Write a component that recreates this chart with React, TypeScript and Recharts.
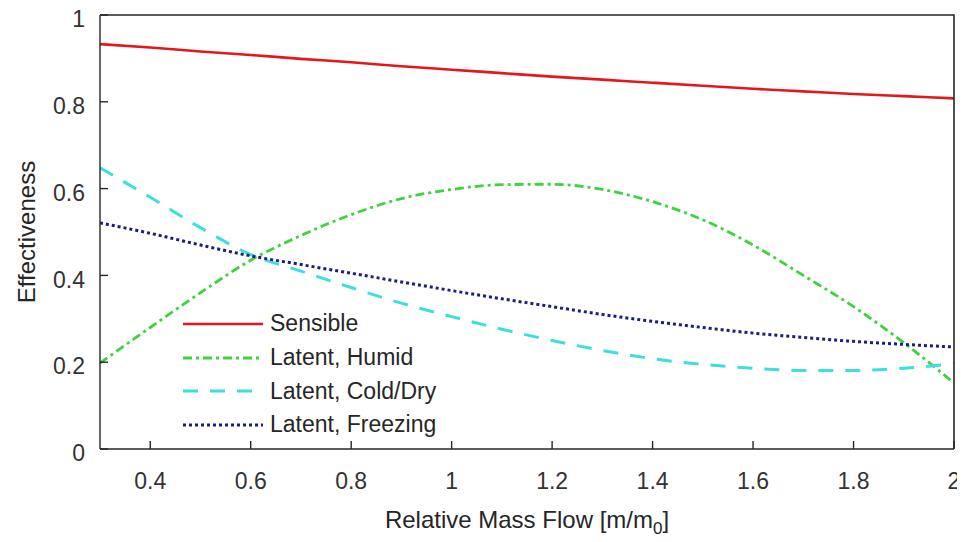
import { LineChart, Line, XAxis, YAxis, Legend } from 'recharts';

const font = '"Liberation Sans", Arial, sans-serif';

// relative mass flow m/m0
const massFlow = [0.3, 0.4, 0.5, 0.6, 0.7, 0.8, 0.9, 1.0, 1.1, 1.2, 1.3, 1.4, 1.5, 1.6, 1.7, 1.8, 1.9, 2.0];
const sensible = [0.933, 0.925, 0.916, 0.908, 0.899, 0.891, 0.882, 0.874, 0.866, 0.858, 0.851, 0.844, 0.837, 0.83, 0.824, 0.818, 0.813, 0.808];
const humid = [0.198, 0.28, 0.36, 0.435, 0.492, 0.54, 0.577, 0.598, 0.609, 0.61, 0.598, 0.57, 0.528, 0.47, 0.4, 0.328, 0.245, 0.152];
const coldDry = [0.648, 0.58, 0.51, 0.448, 0.41, 0.372, 0.336, 0.305, 0.276, 0.25, 0.227, 0.208, 0.195, 0.186, 0.181, 0.181, 0.186, 0.197];
const freezing = [0.521, 0.497, 0.47, 0.445, 0.425, 0.405, 0.385, 0.365, 0.346, 0.328, 0.31, 0.294, 0.28, 0.267, 0.257, 0.248, 0.241, 0.235];

const xTicks = [0.4, 0.6, 0.8, 1, 1.2, 1.4, 1.6, 1.8, 2];
const yTicks = [0, 0.2, 0.4, 0.6, 0.8, 1];

const series = [
    { key: 'sensible', name: 'Sensible', color: '#e3171c', dash: undefined, width: 2.6 },
    { key: 'humid', name: 'Latent, Humid', color: '#3fd23f', dash: '9 4 3 4', width: 2.8 },
    { key: 'coldDry', name: 'Latent, Cold/Dry', color: '#3ddede', dash: '15 12', width: 3 },
    { key: 'freezing', name: 'Latent, Freezing', color: '#1c1c86', dash: '3 3', width: 3 },
];

const data = massFlow.map((m, i) => ({
    m,
    sensible: sensible[i],
    humid: humid[i],
    coldDry: coldDry[i],
    freezing: freezing[i],
}));

const W = 965;
const H = 542;
const margin = { top: 15, right: 11, left: 0, bottom: 0 };
const yAxisWidth = 100;
const xAxisHeight = 93;

const axisColor = '#262626';
const tickStyle = { fill: '#333333', fontSize: 23, fontFamily: font };

const XLabel = ({ viewBox }: any) => {
    const { x, y, width } = viewBox;
    return (
        <text x={x + width / 2} y={y + 79} textAnchor="middle" fontSize={24} fill={axisColor} fontFamily={font}>
            Relative Mass Flow [m/m
            <tspan dy={6} fontSize={17}>0</tspan>
            <tspan dy={-6}>]</tspan>
        </text>
    );
};

const YLabel = ({ viewBox }: any) => {
    const { x, y, height } = viewBox;
    const cx = x + 26;
    const cy = y + height / 2;
    return (
        <text
            x={cx}
            y={cy}
            transform={`rotate(-90, ${cx}, ${cy})`}
            textAnchor="middle"
            dominantBaseline="central"
            fontSize={24}
            fill={axisColor}
            fontFamily={font}
        >
            Effectiveness
        </text>
    );
};

const renderLegend = () => (
    <div style={{ fontFamily: font, fontSize: 23, color: axisColor, whiteSpace: 'nowrap', width: 300 }}>
        {series.map((s) => (
            <div key={s.key} style={{ display: 'flex', alignItems: 'center', height: 33.7 }}>
                <svg width={82} height={10} style={{ flexShrink: 0 }}>
                    <line x1={0} y1={5} x2={80} y2={5} stroke={s.color} strokeWidth={s.width} strokeDasharray={s.dash} />
                </svg>
                <span style={{ marginLeft: 5 }}>{s.name}</span>
            </div>
        ))}
    </div>
);

export default function App() {
    const plotW = W - margin.left - margin.right - yAxisWidth;
    const plotH = H - margin.top - margin.bottom - xAxisHeight;
    return (
        <div style={{ position: 'relative', marginLeft: -8, marginTop: -8, width: W, height: H, background: '#fff' }}>
            <LineChart width={W} height={H} data={data} margin={margin}>
                <XAxis
                    dataKey="m"
                    type="number"
                    domain={[0.3, 2]}
                    ticks={xTicks}
                    allowDataOverflow
                    height={xAxisHeight}
                    tickSize={-8}
                    tickMargin={32}
                    stroke={axisColor}
                    strokeWidth={1.4}
                    tick={tickStyle}
                    label={<XLabel />}
                />
                <YAxis
                    type="number"
                    domain={[0, 1]}
                    ticks={yTicks}
                    width={yAxisWidth}
                    tickSize={-8}
                    tickMargin={23}
                    stroke={axisColor}
                    strokeWidth={1.4}
                    tick={{ ...tickStyle, dy: 4 }}
                    label={<YLabel />}
                />
                <Legend
                    layout="vertical"
                    verticalAlign="bottom"
                    align="left"
                    content={renderLegend}
                    wrapperStyle={{ left: 183, top: 307, width: 0, height: 0, overflow: 'visible' }}
                />
                {series.map((s) => (
                    <Line
                        key={s.key}
                        type="monotone"
                        dataKey={s.key}
                        name={s.name}
                        stroke={s.color}
                        strokeWidth={s.width}
                        strokeDasharray={s.dash}
                        dot={false}
                        activeDot={false}
                        isAnimationActive={false}
                    />
                ))}
            </LineChart>
            {/* top and right edges of the plot box */}
            <svg
                width={W}
                height={H}
                style={{ position: 'absolute', left: 0, top: 0, pointerEvents: 'none' }}
            >
                <polyline
                    points={`${margin.left + yAxisWidth},${margin.top} ${margin.left + yAxisWidth + plotW},${margin.top} ${margin.left + yAxisWidth + plotW},${margin.top + plotH}`}
                    fill="none"
                    stroke={axisColor}
                    strokeWidth={1.6}
                />
            </svg>
        </div>
    );
}
